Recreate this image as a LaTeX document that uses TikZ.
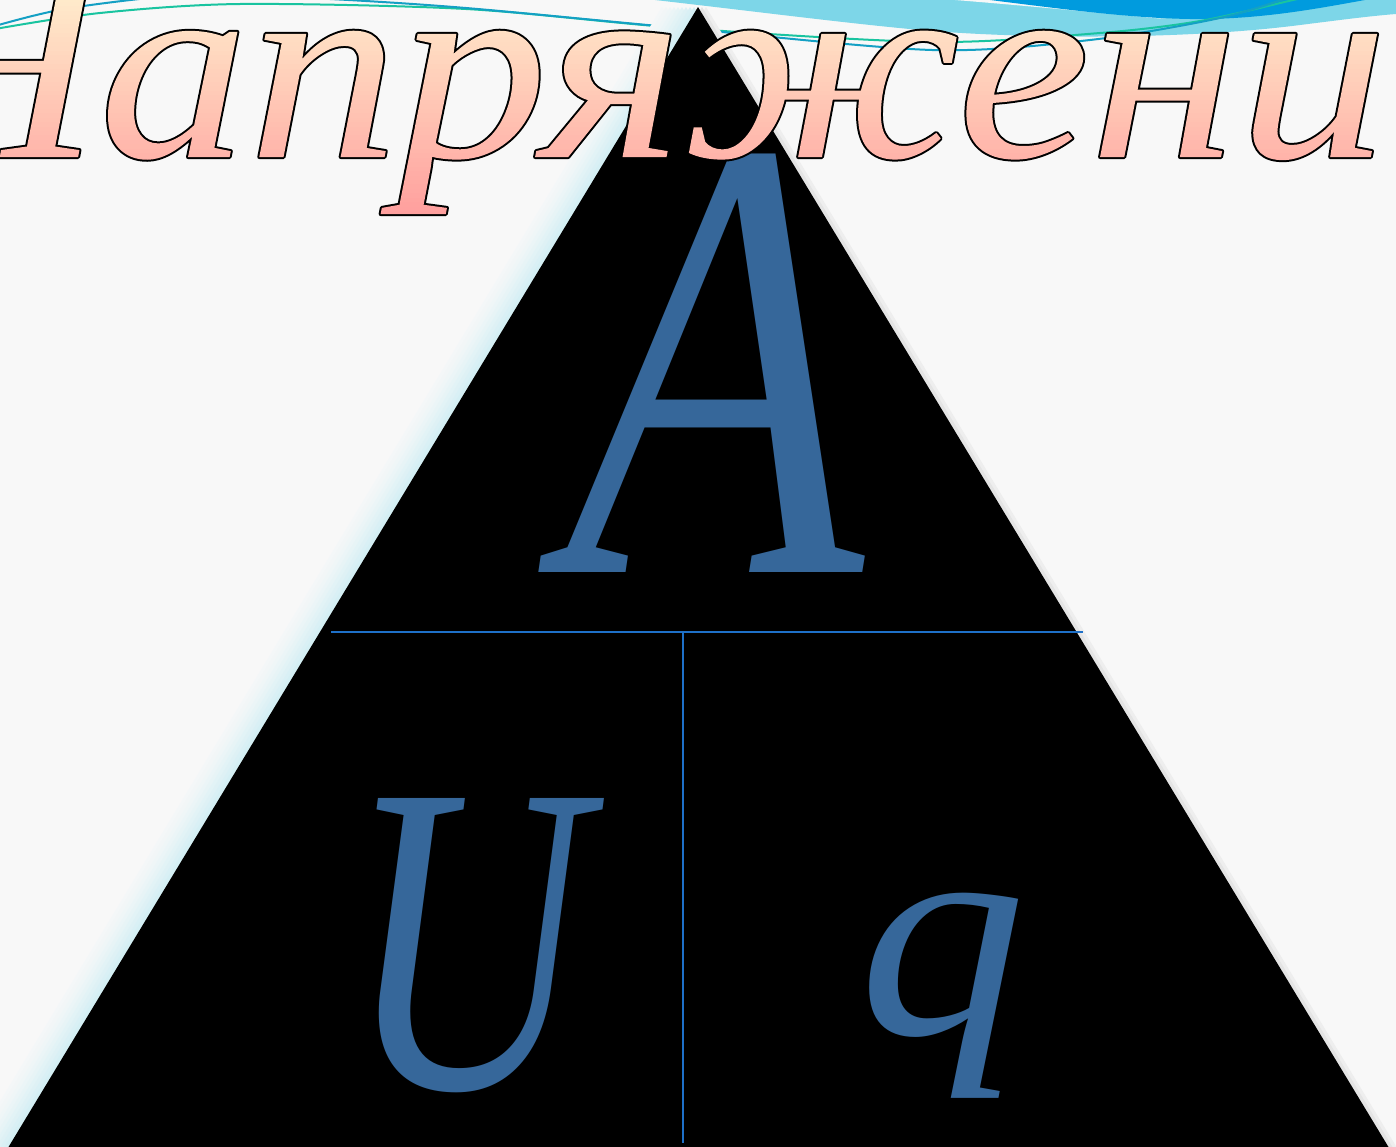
\documentclass[tikz,border=0pt]{standalone}
\usepackage{fontspec}
\setmainfont{Liberation Serif}
\newfontfamily\titlefont{Liberation Serif}[FakeStretch=1.116]
\usetikzlibrary{calc}
\definecolor{bgcol}{RGB}{248,248,248}
\definecolor{bandcyan}{RGB}{125,214,232}
\definecolor{deepblue}{RGB}{0,155,222}
\definecolor{greenline}{RGB}{25,196,160}
\definecolor{tealline}{RGB}{20,160,196}
\definecolor{glowcyan}{RGB}{170,228,240}
\definecolor{letterblue}{RGB}{54,103,154}
\definecolor{divline}{RGB}{30,112,200}
\definecolor{ttop}{RGB}{255,247,210}
\definecolor{tbot}{RGB}{255,155,155}
\newcount\gcnt
\newdimen\gstrip
\newcommand\gradstrips[2]{%
  \gstrip=\dimexpr #2/60\relax
  \vbox{\offinterlineskip\gcnt=0
    \loop
      \hbox{\color{ttop!\the\numexpr 100-\gcnt*100/59\relax!tbot}\vrule width #1 height \gstrip depth 0pt}%
      \advance\gcnt by 1
    \ifnum\gcnt<60 \repeat}}
\newcommand\gradtext[1]{%
  \setbox0=\hbox{#1}%
  \special{pdf:bcontent}%
  \special{pdf:literal direct 0 G 4 w 1 j 6 Tr}%
  \rlap{#1}%
  \special{pdf:literal direct 0 Tr}%
  \rlap{\kern-50pt\raisebox{-\dimexpr\dp0+15pt\relax}{\gradstrips{\dimexpr\wd0+100pt\relax}{\dimexpr\ht0+\dp0+35pt\relax}}}%
  \special{pdf:econtent}%
  \hbox to \wd0{\vrule width 0pt height \ht0 depth \dp0\hfil}}
\tikzset{
  lett/.style={inner sep=0pt, text=letterblue},
  divider/.style={draw=divline, line width=2pt},
  wave/.style={line width=2pt}
}
\begin{document}
\begin{tikzpicture}[x=1pt,y=-1pt]
\useasboundingbox (0,0) rectangle (1396,1146);
\clip (0,0) rectangle (1396,1146);
\fill[bgcol] (0,0) rectangle (1396,1146);
% top waves
\fill[bandcyan] (655,0) .. controls (760,12) and (860,25) .. (932,31) .. controls (1050,40) and (1200,38) .. (1300,25) .. controls (1340,20) and (1370,16) .. (1396,14) -- (1396,0) -- cycle;
\fill[bgcol] (955,0) .. controls (1030,6) and (1100,13) .. (1165,19) .. controls (1100,10) and (1040,4) .. (995,0) -- cycle;
\fill[deepblue] (990,0) .. controls (1070,10) and (1130,18) .. (1190,19) .. controls (1260,20) and (1320,8) .. (1365,0) -- cycle;
\draw[wave, greenline] plot[smooth] coordinates {(-5,29) (100,13) (240,4) (466,9) (680,28) (932,42) (1100,33) (1200,21) (1293,0) (1310,-4)};
\draw[wave, tealline] plot[smooth] coordinates {(-5,26) (70,8) (200,-6) (330,-1) (466,8) (680,28) (932,50) (1090,40) (1220,18) (1290,-3)};
% triangle
\coordinate (apex) at (698,7);
\coordinate (bl) at (-3,1166);
\coordinate (br) at (1400,1166);
\foreach \k/\c in {36/5,32/8,28/12,24/17,20/22,16/28,12/34,8/40,4/46}{
  \fill[glowcyan!\c!bgcol] ($(apex)+(-\k,0)$) -- ($(bl)+(-\k,0)$) -- ($(br)+(-\k,0)$) -- cycle;
}
\foreach \k/\c in {8/4,4/8}{
  \fill[black!\c!bgcol] ($(apex)+(\k,0)$) -- ($(bl)+(\k,0)$) -- ($(br)+(\k,0)$) -- cycle;
}
\fill[black] (apex) -- (bl) -- (br) -- cycle;
% dividers
\coordinate (hl) at (331,632);
\coordinate (hr) at (1083,632);
\coordinate (vt) at (683,632);
\coordinate (vb) at (683,1143);
\draw[divider] (hl) -- (hr);
\draw[divider] (vt) -- (vb);
% letters
\node[lett, font=\fontsize{634}{634}\selectfont\itshape, anchor=base] (A) at (715,572) {\scalebox{0.77}[1]{A}};
\node[lett, font=\fontsize{443}{443}\selectfont\itshape, anchor=base] (U) at (466,1088) {\scalebox{0.75}[1]{U}};
\node[lett, font=\fontsize{300}{300}\selectfont\itshape, anchor=base] (q) at (942,1034) {\scalebox{1.12}[1]{q}};
% title
\node[inner sep=0pt, anchor=base east, font=\titlefont\fontsize{268}{300}\selectfont\itshape] (title) at (1388,157) {\gradtext{Напряжени}};
\end{tikzpicture}
\end{document}
